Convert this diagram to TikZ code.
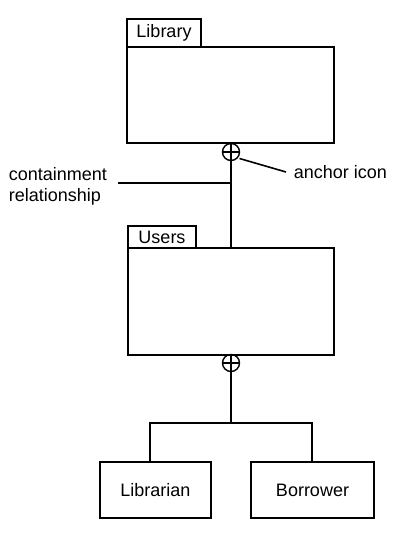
\documentclass[tikz,border=0pt]{standalone}
\usepackage{fontspec}
\setmainfont{Liberation Sans}
\begin{document}
\begin{tikzpicture}[x=1pt,y=-1pt,line width=1.6pt,
  txt/.style={inner sep=0pt,font=\fontsize{18}{21}\selectfont},
  box/.style={draw,inner sep=0pt},
  anchoricon/.style={draw,circle,minimum size=17pt,inner sep=0pt,line width=1.4pt}]
\useasboundingbox (0,0) rectangle (400,538);
% Library package
\node[box,minimum width=74pt,minimum height=28pt] (libtab) at (164,33) {};
\node[txt] at (libtab) {Library};
\node[box,minimum width=207pt,minimum height=96pt] (lib) at (230.5,95) {};
% Users package
\node[box,minimum width=68pt,minimum height=22pt] (usrtab) at (162,237) {};
\node[txt] at (usrtab) {Users};
\node[box,minimum width=206pt,minimum height=107pt] (usr) at (231,301.5) {};
% anchors
\node[anchoricon] (a1) at (231,152) {};
\draw[line width=1.4pt] (a1.north) -- (a1.south) (a1.west) -- (a1.east);
\node[anchoricon] (a2) at (231,363) {};
\draw[line width=1.4pt] (a2.north) -- (a2.south) (a2.west) -- (a2.east);
% containment line
\draw (a1.south) -- (usr.north -| a1);
\coordinate (c1) at (118,183);
\coordinate (c2) at (231,183);
\draw (c1) -- (c2);
\node[txt,align=left,anchor=west] (ctext) at (8,186) {containment\\relationship};
% anchor icon label
\coordinate (l1) at (286,172);
\draw (a1.south east) ++(2,0) -- (l1);
\node[txt,anchor=west] (atext) at (293,172) {anchor icon};
% children
\node[box,minimum width=111pt,minimum height=56pt,txt,draw] (libr) at (155.5,490) {Librarian};
\node[box,minimum width=123pt,minimum height=56pt,txt,draw] (borr) at (312.5,490) {Borrower};
\coordinate (j) at (231,423);
\coordinate (lj) at ([xshift=-5.5pt]libr.north);
\coordinate (bj) at ([xshift=-0.5pt]borr.north);
\draw (a2.south) -- (j);
\draw (lj) -- (lj |- j) -- (bj |- j) -- (bj);
\end{tikzpicture}
\end{document}
